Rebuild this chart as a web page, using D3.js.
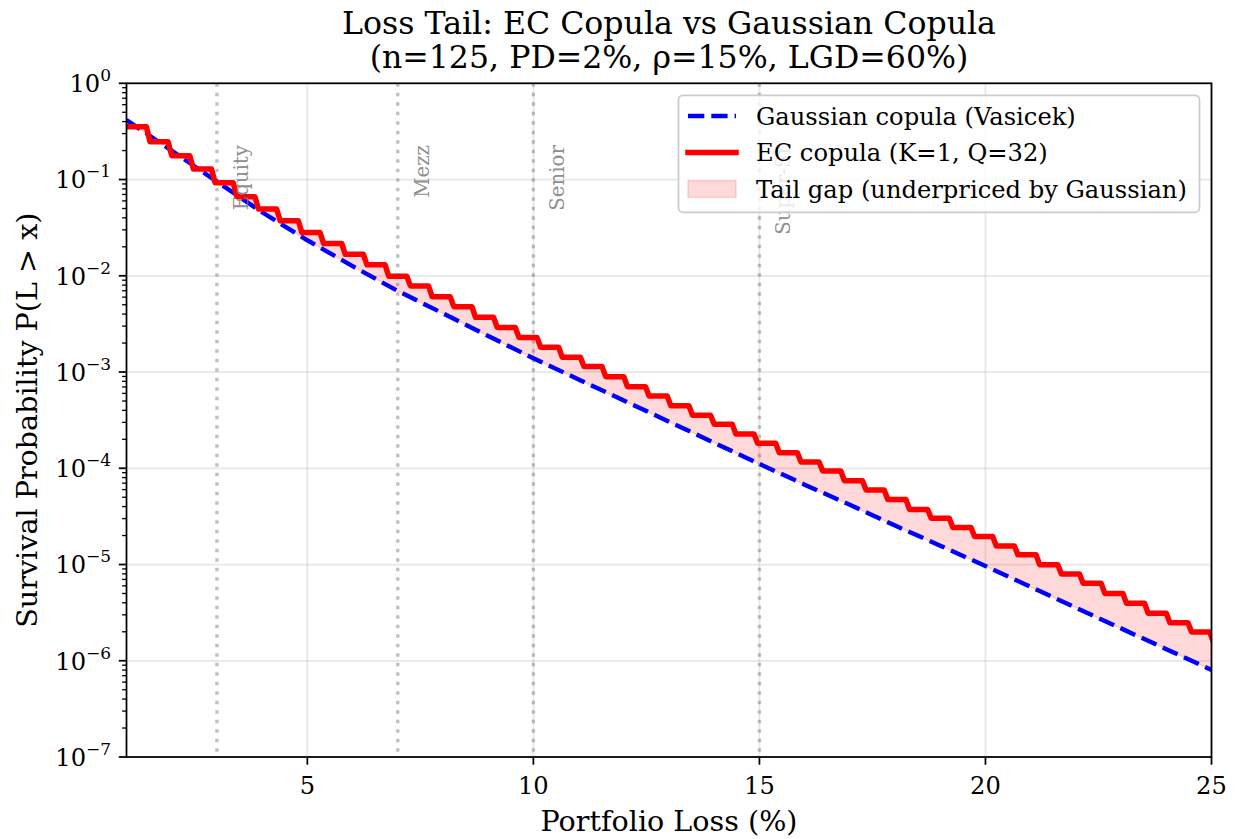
<!DOCTYPE html>
<html>
<head>
<meta charset="utf-8">
<script src="https://cdn.jsdelivr.net/npm/d3@7"></script>
<style>
  html, body { margin: 0; padding: 0; background: #fff; }
  svg { display: block; font-family: "DejaVu Serif", serif; }
</style>
</head>
<body>
<svg id="chart" width="1237" height="839"></svg>
<script>
// ---------------- data ----------------
const titleLines = ["Loss Tail: EC Copula vs Gaussian Copula", "(n=125, PD=2%, \u03C1=15%, LGD=60%)"];
const xLabel = "Portfolio Loss (%)";
const yLabel = "Survival Probability P(L > x)";

// Gaussian (Vasicek) survival curve, read at integer loss levels (%)
const gaussLoss = [1,2,3,4,5,6,7,8,9,10,11,12,13,14,15,16,17,18,19,20,21,22,23,24,25];
const gaussSurv = [0.416,0.1995,0.0951,0.0457,0.0234,0.0126,0.00695,0.00407,0.00237,0.00139,
  8.38e-4,5.06e-4,3.05e-4,1.84e-4,1.11e-4,6.76e-5,4.17e-5,2.54e-5,1.57e-5,9.64e-6,
  5.86e-6,3.56e-6,2.17e-6,1.32e-6,8.02e-7];

// EC copula staircase: number of defaults k and P(L > x) on each step
const lossPerDefault = 0.48; // LGD 60% / n 125, in %
const ecDefaults = [2,3,4,5,6,7,8,9,10,11,12,13,14,15,16,17,18,19,20,21,22,23,24,25,26,27,
  28,29,30,31,32,33,34,35,36,37,38,39,40,41,42,43,44,45,46,47,48,49,50,51,52];
const ecSurv = [0.354,0.247,0.177,0.1285,0.0927,0.0664,0.0494,0.0373,0.0282,0.0217,0.0167,0.0130,
  0.00989,0.00785,0.00607,0.00478,0.00370,0.00291,0.00229,0.00181,0.00142,0.00114,
  8.95e-4,7.05e-4,5.64e-4,4.47e-4,3.55e-4,2.86e-4,2.27e-4,1.82e-4,1.45e-4,1.16e-4,
  9.38e-5,7.43e-5,5.94e-5,4.75e-5,3.74e-5,3.02e-5,2.42e-5,1.95e-5,1.56e-5,1.26e-5,
  9.95e-6,7.96e-6,6.37e-6,5.01e-6,3.95e-6,3.11e-6,2.48e-6,1.99e-6,1.58e-6];

// tranche attachment points
const trancheAttach = [3, 7, 10, 15];
const trancheNames = ["Equity", "Mezz", "Senior", "Super-Sr"];

const xTicks = [5, 10, 15, 20, 25];
const yTickExps = [0, -1, -2, -3, -4, -5, -6, -7];
const legendLabels = ["Gaussian copula (Vasicek)", "EC copula (K=1, Q=32)", "Tail gap (underpriced by Gaussian)"];

// ---------------- layout ----------------
const W = 1237, H = 839;
const L = 126.5, R = 1211.5, T = 83.3, B = 757;
const svg = d3.select("#chart");
const x = d3.scaleLinear().domain([1, 25]).range([L, R]);
const y = d3.scaleLog().domain([1e-7, 1]).range([B, T]);

svg.append("defs").append("clipPath").attr("id", "plotclip")
  .append("rect").attr("x", L).attr("y", T).attr("width", R - L).attr("height", B - T);

// grid
const grid = svg.append("g");
xTicks.forEach(t => grid.append("line").attr("x1", x(t)).attr("x2", x(t)).attr("y1", T).attr("y2", B)
  .attr("stroke", "#b0b0b0").attr("stroke-opacity", 0.3).attr("stroke-width", 1.76));
yTickExps.forEach(e => grid.append("line").attr("x1", L).attr("x2", R).attr("y1", y(Math.pow(10, e))).attr("y2", y(Math.pow(10, e)))
  .attr("stroke", "#b0b0b0").attr("stroke-opacity", 0.3).attr("stroke-width", 1.76));

const plot = svg.append("g").attr("clip-path", "url(#plotclip)");

// tranche lines
trancheAttach.forEach(a => plot.append("line").attr("x1", x(a)).attr("x2", x(a)).attr("y1", T).attr("y2", B)
  .attr("stroke", "#808080").attr("stroke-opacity", 0.5).attr("stroke-width", 3.3)
  .attr("stroke-dasharray", "3.5,6"));

// tranche labels
trancheAttach.forEach((a, i) => {
  const bx = x(a) + 31, ty = 145;
  svg.append("text").attr("transform", `translate(${bx},${ty}) rotate(-90)`)
    .attr("text-anchor", "end").attr("font-size", 19.8).attr("fill", "#808080").attr("fill-opacity", 0.9)
    .text(trancheNames[i]);
});

// build EC step path points
const slant = 0.08;
const ecPts = [];
ecDefaults.forEach((k, i) => {
  const x0 = Math.max(1, k * lossPerDefault);
  const x1 = Math.min(25.2, (k + 1) * lossPerDefault);
  const v = ecSurv[i];
  ecPts.push([i === 0 ? x0 : x0 + slant, v]);
  ecPts.push([x1, v]);
});

// interpolation helper (screen-linear = log-linear), used only for rendering the fill
function interpLog(pts, xv) {
  if (xv <= pts[0][0]) return Math.log10(pts[0][1]);
  for (let i = 1; i < pts.length; i++) {
    if (xv <= pts[i][0]) {
      const [xa, ya] = pts[i - 1], [xb, yb] = pts[i];
      const t = (xv - xa) / (xb - xa || 1);
      return Math.log10(ya) + t * (Math.log10(yb) - Math.log10(ya));
    }
  }
  return Math.log10(pts[pts.length - 1][1]);
}
const gaussPts = gaussLoss.map((l, i) => [l, gaussSurv[i]]);

// fill between
const fillXs = d3.range(1, 25.0001, 0.005);
const area = d3.area()
  .x(d => x(d))
  .y0(d => y(Math.pow(10, interpLog(gaussPts, d))))
  .y1(d => {
    const g = interpLog(gaussPts, d), e = interpLog(ecPts, d);
    return y(Math.pow(10, Math.max(g, e)));
  });
plot.append("path").datum(fillXs).attr("d", area)
  .attr("fill", "#ff0000").attr("fill-opacity", 0.15)
  .attr("stroke", "#ff0000").attr("stroke-opacity", 0.15).attr("stroke-width", 1.5);

// Gaussian dashed line
const line = d3.line().x(d => x(d[0])).y(d => y(d[1]));
plot.append("path").datum(gaussPts).attr("d", line)
  .attr("fill", "none").attr("stroke", "#0000ff").attr("stroke-width", 4.4)
  .attr("stroke-dasharray", "16.3,7");

// EC staircase
plot.append("path").datum(ecPts).attr("d", line)
  .attr("fill", "none").attr("stroke", "#ff0000").attr("stroke-width", 5.5)
  .attr("stroke-linejoin", "round").attr("stroke-linecap", "square");

// spines
svg.append("rect").attr("x", L).attr("y", T).attr("width", R - L).attr("height", B - T)
  .attr("fill", "none").attr("stroke", "#000").attr("stroke-width", 1.76);

// x ticks
const xa = svg.append("g");
xTicks.forEach(t => {
  xa.append("line").attr("x1", x(t)).attr("x2", x(t)).attr("y1", B).attr("y2", B + 7.7)
    .attr("stroke", "#000").attr("stroke-width", 1.76);
  xa.append("text").attr("x", x(t)).attr("y", 794).attr("text-anchor", "middle")
    .attr("font-size", 24.2).attr("fill", "#000").text(t);
});

// y ticks (major + minor)
const ya = svg.append("g");
yTickExps.forEach(e => {
  const yy = y(Math.pow(10, e));
  ya.append("line").attr("x1", L - 7.7).attr("x2", L).attr("y1", yy).attr("y2", yy)
    .attr("stroke", "#000").attr("stroke-width", 1.76);
  const t = ya.append("text").attr("x", L - 15.4).attr("y", yy + 8.8).attr("text-anchor", "end")
    .attr("font-size", 24.2).attr("fill", "#000");
  t.append("tspan").text("10");
  t.append("tspan").attr("dy", -11).attr("font-size", 17).text(e === 0 ? "0" : "\u2212" + Math.abs(e));
});
for (let e = -7; e < 0; e++) {
  for (let m = 2; m <= 9; m++) {
    const yy = y(m * Math.pow(10, e));
    ya.append("line").attr("x1", L - 4.4).attr("x2", L).attr("y1", yy).attr("y2", yy)
      .attr("stroke", "#000").attr("stroke-width", 1.32);
  }
}

// axis labels
svg.append("text").attr("x", (L + R) / 2).attr("y", 831).attr("text-anchor", "middle")
  .attr("font-size", 28.6).attr("fill", "#000").text(xLabel);
svg.append("text").attr("transform", `translate(37,${(T + B) / 2}) rotate(-90)`).attr("text-anchor", "middle")
  .attr("font-size", 28.6).attr("fill", "#000").text(yLabel);

// title
titleLines.forEach((s, i) => svg.append("text").attr("x", (L + R) / 2).attr("y", 33.5 + i * 34)
  .attr("text-anchor", "middle").attr("font-size", 31.6).attr("fill", "#000").text(s));

// legend
const lg = svg.append("g");
lg.append("rect").attr("x", 678.5).attr("y", 95.3).attr("width", 521).attr("height", 117)
  .attr("rx", 4.5).attr("fill", "#fff").attr("fill-opacity", 0.8)
  .attr("stroke", "#cccccc").attr("stroke-width", 1.76);
const rows = [116, 152.5, 189];
lg.append("line").attr("x1", 688).attr("x2", 736).attr("y1", rows[0]).attr("y2", rows[0])
  .attr("stroke", "#0000ff").attr("stroke-width", 4.4).attr("stroke-dasharray", "16.3,7");
lg.append("line").attr("x1", 688).attr("x2", 736).attr("y1", rows[1]).attr("y2", rows[1])
  .attr("stroke", "#ff0000").attr("stroke-width", 5.5).attr("stroke-linecap", "square");
lg.append("rect").attr("x", 688).attr("y", rows[2] - 8.4).attr("width", 48).attr("height", 16.8)
  .attr("fill", "#ff0000").attr("fill-opacity", 0.15)
  .attr("stroke", "#ff0000").attr("stroke-opacity", 0.15).attr("stroke-width", 1.5);
legendLabels.forEach((s, i) => lg.append("text").attr("x", 756).attr("y", rows[i] + 8.6)
  .attr("font-size", 24.2).attr("fill", "#000").text(s));
</script>
</body>
</html>
